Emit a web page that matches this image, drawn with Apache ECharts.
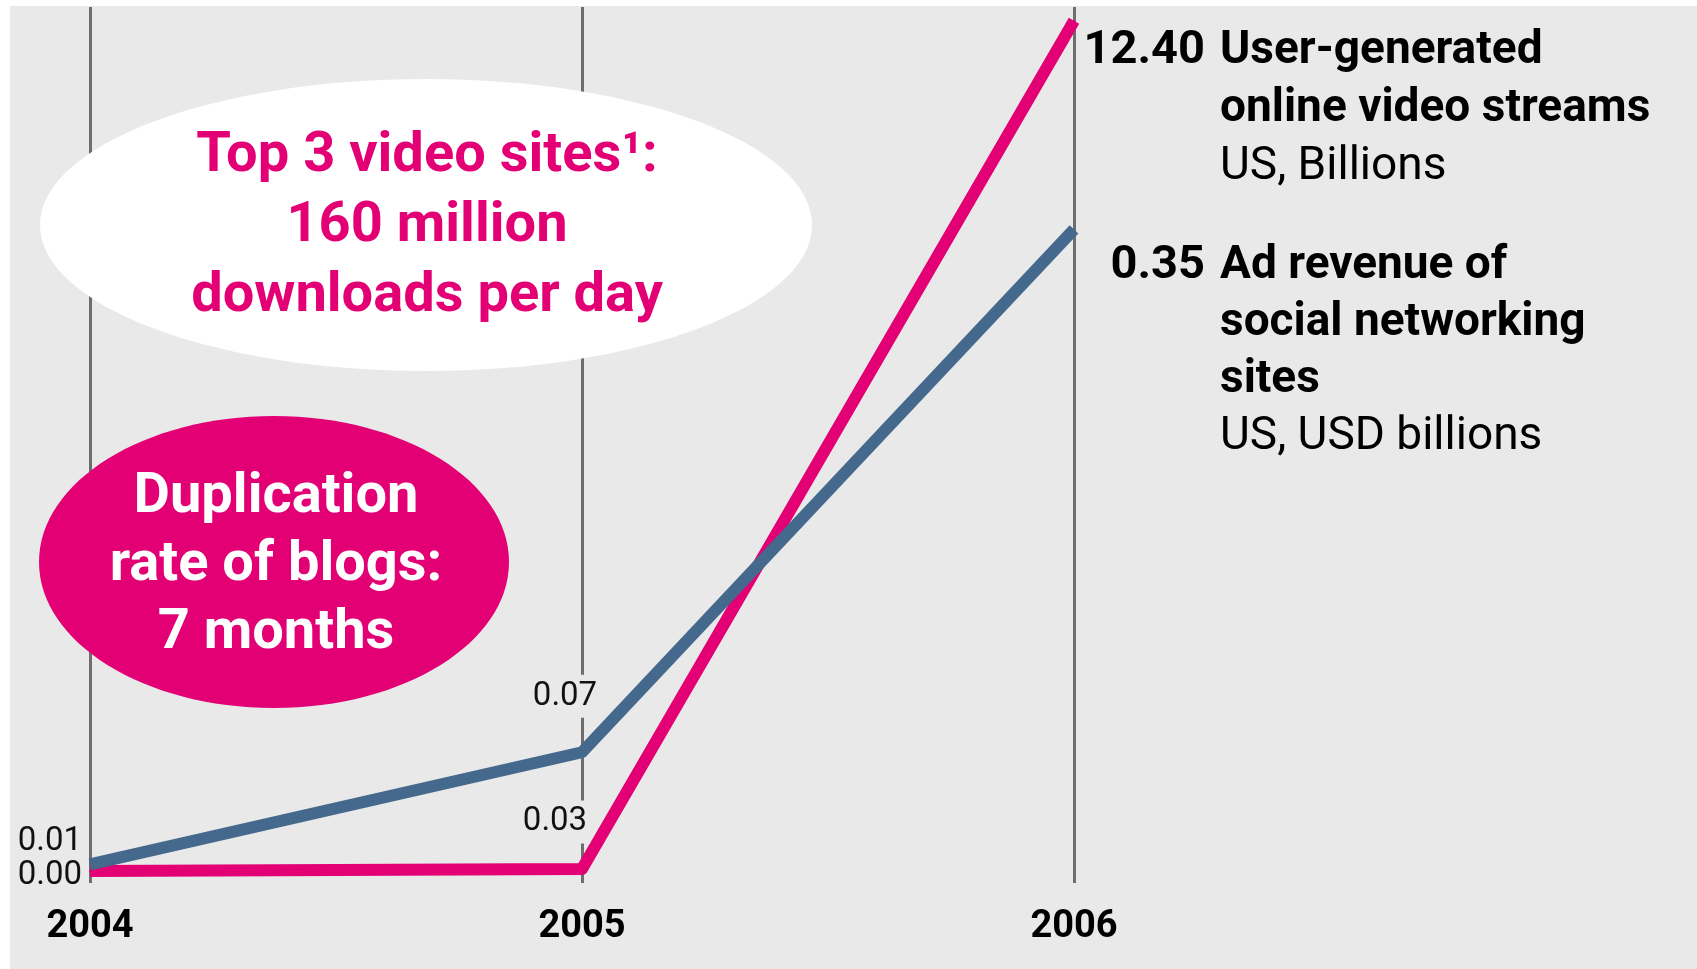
<!DOCTYPE html>
<html>
<head>
<meta charset="utf-8">
<script src="https://cdn.jsdelivr.net/npm/echarts@6/dist/echarts.min.js"></script>
<style>
html,body{margin:0;padding:0;background:#fff;}
#chart{width:1697px;height:969px;}
</style>
</head>
<body>
<div id="chart"></div>
<script>
// ---- data ----
const years = ['2004', '2005', '2006'];
const videoStreams = [0.00, 0.03, 12.40];      // US, billions
const adRevenue = [0.01, 0.07, 0.35];          // US, USD billions
const videoTitle = ['User-generated', 'online video streams'];
const videoUnit = 'US, Billions';
const adTitle = ['Ad revenue of', 'social networking', 'sites'];
const adUnit = 'US, USD billions';
const calloutVideo = ['Top 3 video sites\u00b9:', '160 million', 'downloads per day'];
const calloutBlogs = ['Duplication', 'rate of blogs:', '7 months'];

// ---- styles ----
const FONT = 'Roboto';
const PINK = '#e20074';
const BLUE = '#45698c';
const BG = '#e9e9e9';

const smallLabel = {fontFamily: FONT, fontSize: 33, color: '#111', lineHeight: 33};
const fmt2 = v => v.toFixed(2);
const bigValue = {fontSize: 47, fontWeight: 'bold', color: '#000', lineHeight: 47};

function blueItems() {
  const cfg = [
    {position: 'left', distance: 7, offset: [0, -23]},
    {position: 'inside', offset: [-17, -56], backgroundColor: BG, padding: [5, 3]},
    Object.assign({position: 'inside', align: 'right', offset: [131, 37]}, bigValue)
  ];
  return adRevenue.map((v, i) => ({
    value: v,
    label: Object.assign({show: true, formatter: fmt2(v)}, smallLabel, cfg[i])
  }));
}
function pinkItems() {
  const cfg = [
    {position: 'left', distance: 7, offset: [0, 5]},
    {position: 'inside', offset: [-27, -47], backgroundColor: BG, padding: [5, 3]},
    Object.assign({position: 'inside', align: 'right', offset: [131, 31]}, bigValue)
  ];
  return videoStreams.map((v, i) => ({
    value: v,
    label: Object.assign({show: true, formatter: fmt2(v)}, smallLabel, cfg[i])
  }));
}
function titleRich(lh) {
  return {
    b: {fontFamily: FONT, fontWeight: 'bold', fontSize: 46, color: '#000', lineHeight: lh},
    r: {fontFamily: FONT, fontWeight: 'normal', fontSize: 46, color: '#000', lineHeight: lh}
  };
}

const chart = echarts.init(document.getElementById('chart'), null, {renderer: 'canvas'});
chart.setOption({
  animation: false,
  backgroundColor: 'transparent',
  grid: [
    {left: 90, right: 623, top: 7, bottom: 86},
    {left: 90, right: 623, top: 7, bottom: 98}
  ],
  xAxis: [
    {
      type: 'category', gridIndex: 0, data: years, boundaryGap: false,
      axisLine: {show: false}, axisTick: {show: false},
      axisLabel: {fontFamily: FONT, fontWeight: 'bold', fontSize: 38, color: '#000', margin: 25},
      splitLine: {show: true, lineStyle: {color: '#6e6e6e', width: 3}}
    },
    {type: 'category', gridIndex: 1, data: years, boundaryGap: false, show: false}
  ],
  yAxis: [
    {type: 'value', gridIndex: 0, min: 0, max: 0.469, show: false, splitLine: {show: false}},
    {type: 'value', gridIndex: 1, min: 0, max: 12.6, show: false, splitLine: {show: false}}
  ],
  graphic: [
    {type: 'rect', z: -100, shape: {x: 10, y: 6, width: 1687, height: 963}, style: {fill: BG}, silent: true},
    {type: 'ellipse', z: 50, shape: {cx: 426, cy: 225, rx: 386, ry: 146}, style: {fill: '#ffffff'}},
    {type: 'text', z: 51, x: 427, y: 227, style: {
      text: calloutVideo.join('\n'), fill: PINK, fontFamily: FONT, fontWeight: 'bold', fontSize: 56,
      lineHeight: 70, align: 'center', verticalAlign: 'middle'}},
    {type: 'ellipse', z: 50, shape: {cx: 274, cy: 562, rx: 235, ry: 146}, style: {fill: PINK}},
    {type: 'text', z: 51, x: 276, y: 566, style: {
      text: calloutBlogs.join('\n'), fill: '#ffffff', fontFamily: FONT, fontWeight: 'bold', fontSize: 56,
      lineHeight: 68, align: 'center', verticalAlign: 'middle'}}
  ],
  series: [
    {
      name: videoTitle.join(' '), type: 'line', xAxisIndex: 1, yAxisIndex: 1, z: 2,
      data: pinkItems(), symbol: 'circle', symbolSize: 2, showSymbol: true,
      itemStyle: {color: PINK},
      lineStyle: {color: PINK, width: 12, join: 'round', cap: 'butt'},
      endLabel: {
        show: true, distance: 0, align: 'left', verticalAlign: 'top', offset: [146, 2],
        formatter: () => videoTitle.map(t => '{b|' + t + '}').concat(['{r|' + videoUnit + '}']).join('\n'),
        rich: titleRich(58)
      }
    },
    {
      name: adTitle.join(' '), type: 'line', xAxisIndex: 0, yAxisIndex: 0, z: 3,
      data: blueItems(), symbol: 'circle', symbolSize: 2, showSymbol: true,
      itemStyle: {color: BLUE},
      lineStyle: {color: BLUE, width: 12, join: 'round', cap: 'butt'},
      endLabel: {
        show: true, distance: 0, align: 'left', verticalAlign: 'top', offset: [146, 9],
        formatter: () => adTitle.map(t => '{b|' + t + '}').concat(['{r|' + adUnit + '}']).join('\n'),
        rich: titleRich(57)
      }
    }
  ]
});
</script>
</body>
</html>
